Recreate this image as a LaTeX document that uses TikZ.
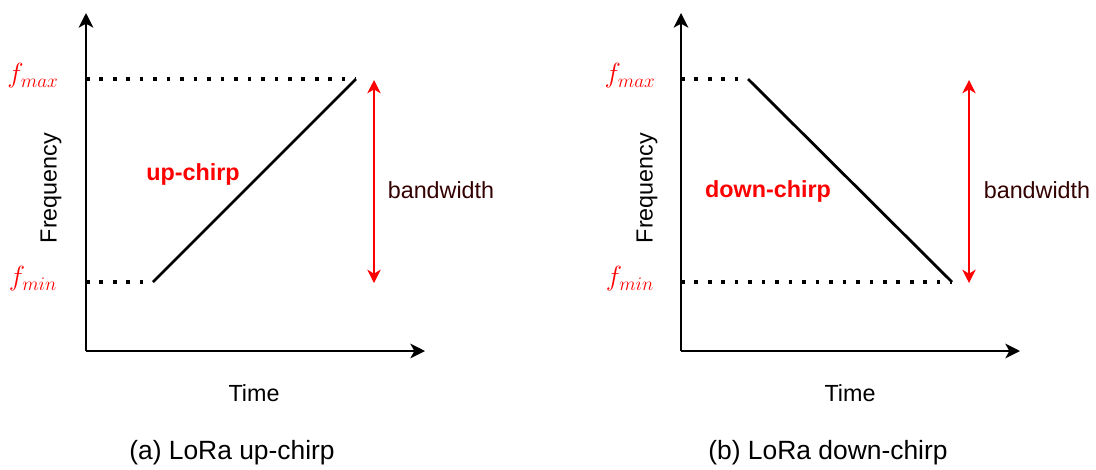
\documentclass[tikz,border=0pt]{standalone}
\usepackage{fontspec}
\setmainfont{Liberation Sans}
\usetikzlibrary{arrows.meta}
\definecolor{bwbrown}{HTML}{330000}

\begin{document}
\begin{tikzpicture}[x=0.75pt, y=-0.75pt, every node/.style={inner sep=0pt},
  axis/.style={line width=1.1pt, -{Stealth[length=11pt, width=11pt, inset=3pt]}},
  chirp/.style={line width=2.1pt},
  level/.style={line width=2.7pt, dash pattern=on 2.7pt off 7.4pt},
  span/.style={red, line width=1.1pt, {Stealth[length=10pt, width=10pt, inset=3pt]}-{Stealth[length=10pt, width=10pt, inset=3pt]}},
  lbl/.style={font=\fontsize{17.5}{21}\selectfont},
  flbl/.style={red, font=\fontsize{20}{24}\selectfont}]
\useasboundingbox (0,0) rectangle (1096,469);

% (a) up-chirp
\begin{scope}
\coordinate (O) at (86,351);
\coordinate (Ytop) at (86,13);
\coordinate (Xend) at (425,351);
\coordinate (Fmax) at (86,79);
\coordinate (Fmin) at (86,282);
\coordinate (Cs) at (153,282);
\coordinate (Ce) at (356,79);

\draw[axis] (O) -- (Ytop);
\draw[axis] (O) -- (Xend);
\draw[level] (Fmax) -- (Ce);
\draw[level] (Fmin) -- (Cs);
\draw[chirp] (Cs) -- (Ce);

\coordinate (Bt) at (374,80);
\coordinate (Bb) at (374,283);
\draw[span] (Bt) -- (Bb);

\node[flbl] (fmax) at (33,76) {$f_{max}$};
\node[flbl] (fmin) at (33,279) {$f_{min}$};
\node[lbl, rotate=90] (freq) at (51,188) {Frequency};
\node[lbl] (time) at (254,393) {Time};
\node[lbl, text=bwbrown] (bw) at (441,190) {bandwidth};
\node[lbl, red, font=\fontsize{17.5}{21}\selectfont\bfseries] (up) at (193,174) {up-chirp};
\node[font=\fontsize{19.8}{24}\selectfont] (capa) at (232,453) {(a) LoRa up-chirp};
\end{scope}

% (b) down-chirp
\begin{scope}[shift={(595,0)}]
\coordinate (O) at (86,351);
\coordinate (Ytop) at (86,13);
\coordinate (Xend) at (425,351);
\coordinate (Fmax) at (86,79);
\coordinate (Fmin) at (86,282);
\coordinate (Ds) at (153,79);
\coordinate (De) at (357,282);

\draw[axis] (O) -- (Ytop);
\draw[axis] (O) -- (Xend);
\draw[level] (Fmax) -- (Ds);
\draw[level] (Fmin) -- (De);
\draw[chirp] (Ds) -- (De);

\coordinate (Bt) at (374,80);
\coordinate (Bb) at (374,283);
\draw[span] (Bt) -- (Bb);

\node[flbl] (fmax) at (35,76) {$f_{max}$};
\node[flbl] (fmin) at (35,279) {$f_{min}$};
\node[lbl, rotate=90] (freq) at (52,188) {Frequency};
\node[lbl] (time) at (255,393) {Time};
\node[lbl, text=bwbrown] (bw) at (442,190) {bandwidth};
\node[lbl, red, font=\fontsize{17.5}{21}\selectfont\bfseries] (down) at (173,191) {down-chirp};
\node[font=\fontsize{19.8}{24}\selectfont] (capb) at (233,453) {(b) LoRa down-chirp};
\end{scope}
\end{tikzpicture}
\end{document}
